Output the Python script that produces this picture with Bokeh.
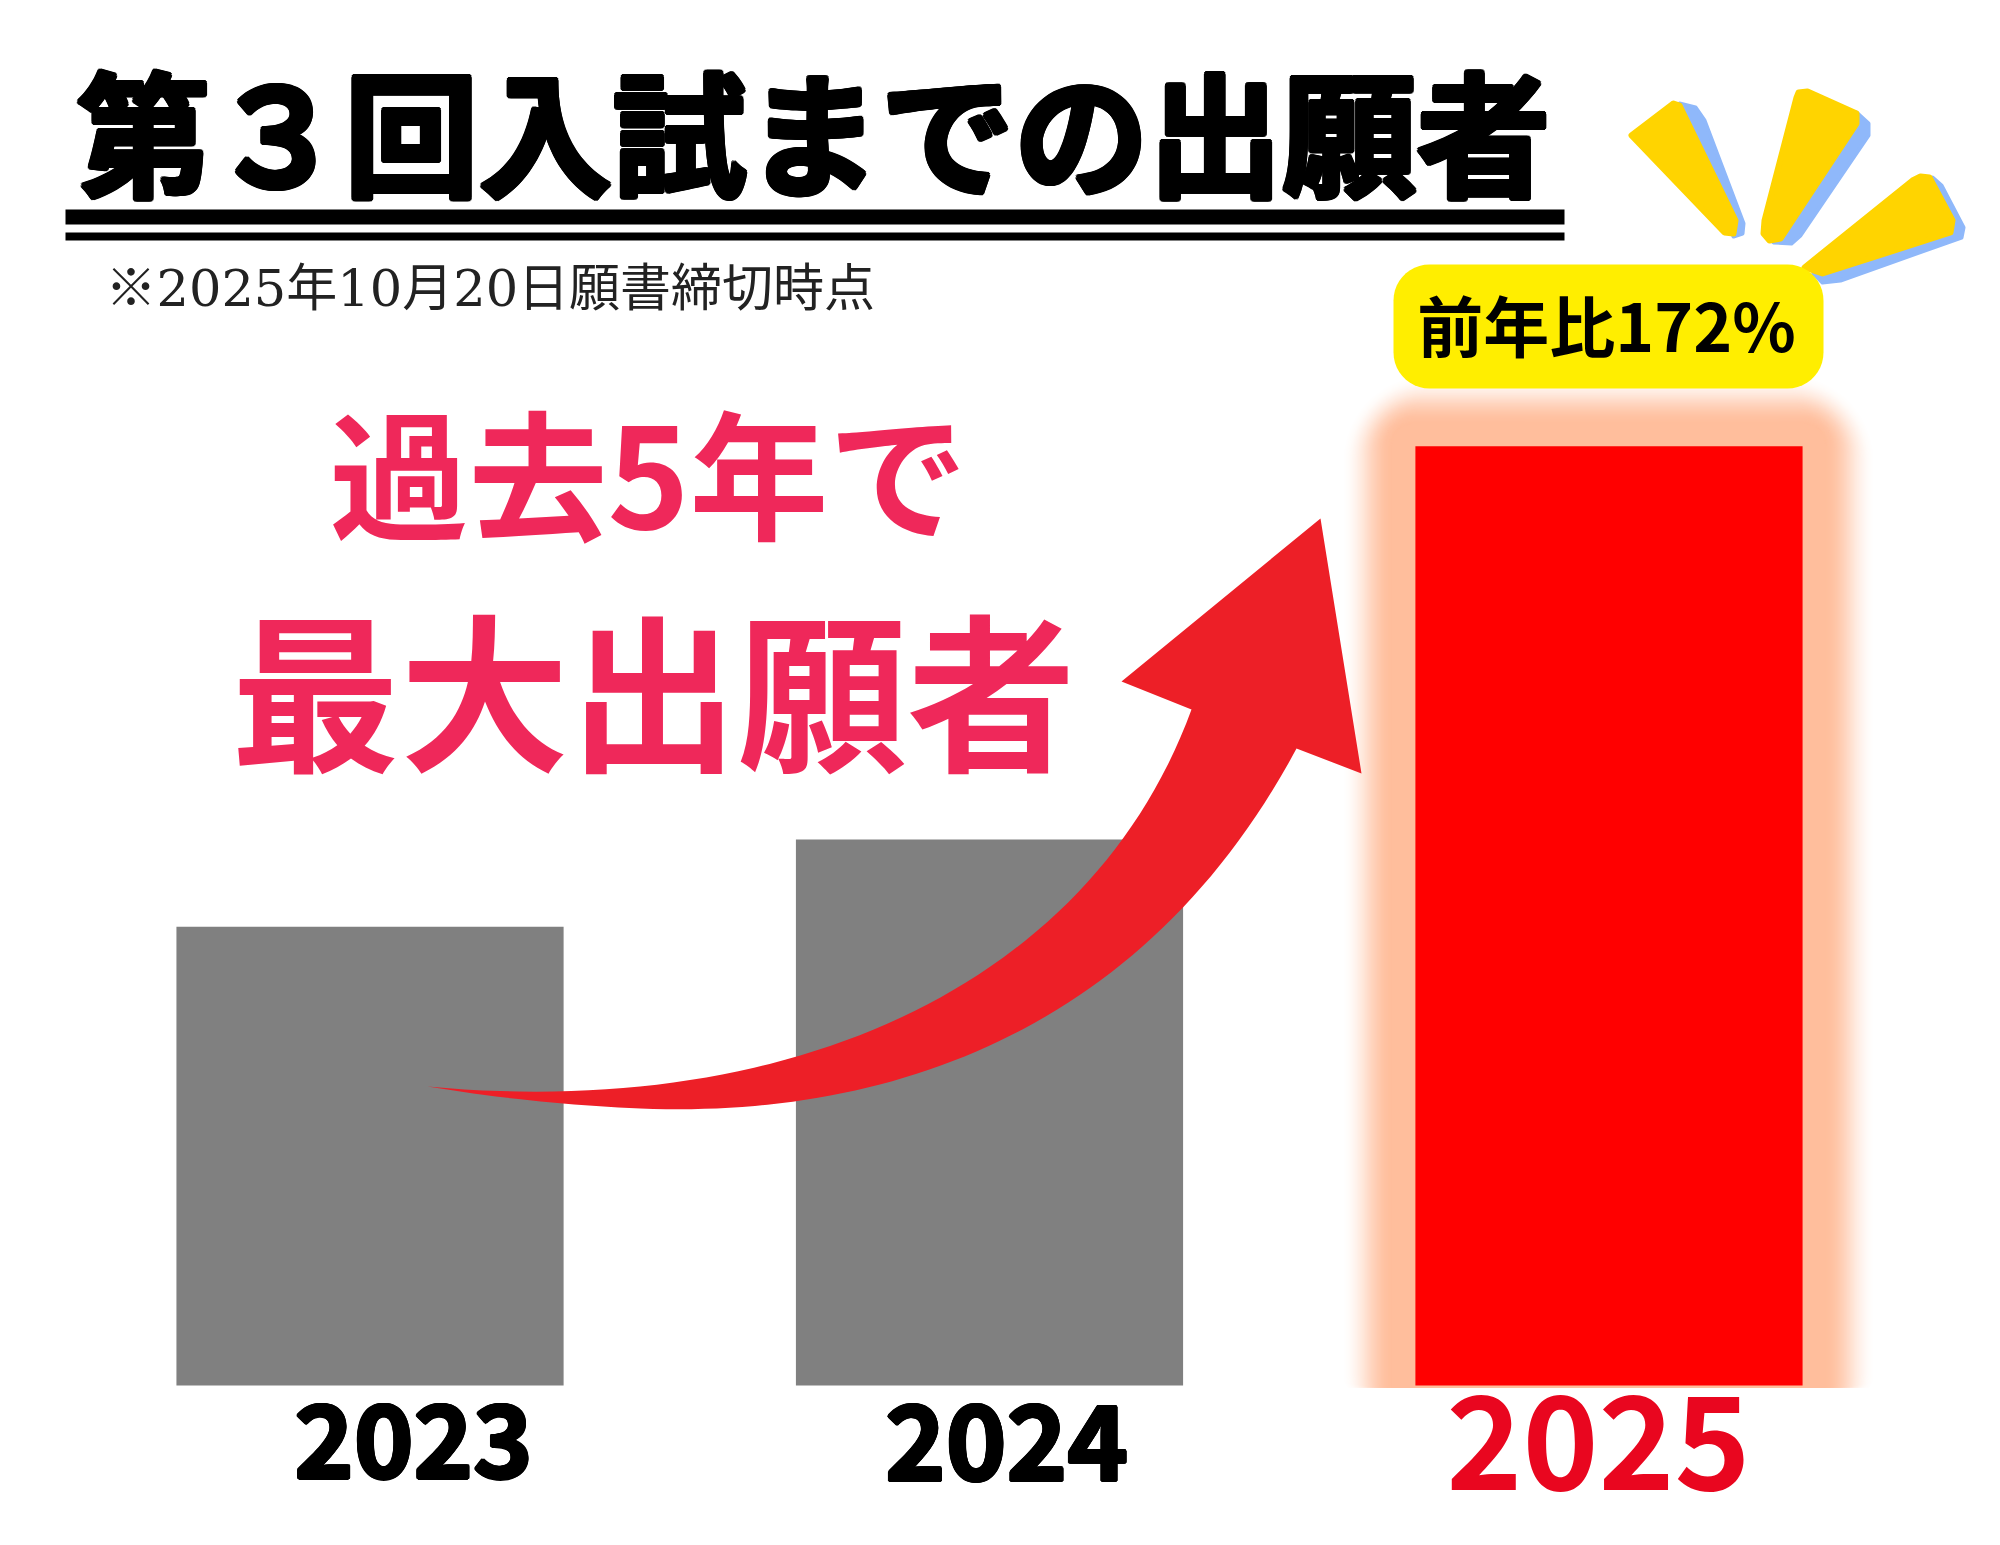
import numpy as np
from bokeh.plotting import figure
from bokeh.models import Range1d
from bokeh.core.properties import value
from bokeh.embed import file_html
from bokeh.resources import INLINE

years = [2023, 2024, 2025]
index_values = [84, 100, 172]
bar_colors = ["#808080", "#808080", "#FF0000"]
title_text = "第３回入試までの出願者"
note_text = "※2025年10月20日願書締切時点"
headline_1 = "過去5年で"
headline_2 = "最大出願者"
badge_text = "前年比172%"

CJK = "Noto Sans CJK JP"
p = figure(width=2000, height=1545, output_backend="svg", toolbar_location=None,
           x_range=Range1d(2022.4035, 2025.632), y_range=Range1d(-29.3, 253.66),
           min_border=0, outline_line_color=None, background_fill_color="white")
p.xaxis.visible = False
p.yaxis.visible = False
p.grid.visible = False
p.extra_x_ranges = {"px": Range1d(0, 2000)}
p.extra_y_ranges = {"px": Range1d(1545, 0)}
PX = dict(x_range_name="px", y_range_name="px")


def rrect(x0, y0, x1, y1, r, n=12):
    t = np.linspace(0, np.pi / 2, n)
    xs = np.concatenate([x1 - r + r * np.sin(t), x1 - r + r * np.cos(t), x0 + r - r * np.sin(t), x0 + r - r * np.cos(t)])
    ys = np.concatenate([y0 + r - r * np.cos(t), y1 - r + r * np.sin(t), y1 - r + r * np.cos(t), y0 + r - r * np.sin(t)])
    return xs, ys


def bez(p0, p1, p2, p3, n=60):
    t = np.linspace(0, 1, n)[:, None]
    a = np.array([p0, p1, p2, p3], float)
    return (1 - t) ** 3 * a[0] + 3 * (1 - t) ** 2 * t * a[1] + 3 * (1 - t) * t ** 2 * a[2] + t ** 3 * a[3]


def heavy(x, y, text, size, color, d, align="left"):
    ang = np.linspace(0, 2 * np.pi, 12, endpoint=False)
    xs = [x] + [x + d * np.cos(a) for a in ang]
    ys = [y] + [y + d * np.sin(a) for a in ang]
    p.text(x=xs, y=ys, text=[text] * len(xs),
           text_font=value(CJK), text_font_style="bold", text_font_size=size, text_color=color,
           text_baseline="middle", text_align=align, **PX)


# glow behind the 2025 bar
peach = np.array([255, 190, 156])
steps = 50
for i in range(steps):
    f = i / (steps - 1)
    grow = 74 - 52 * f
    w = 0.5 - 0.5 * np.cos(np.pi * f)
    c = 255 + (peach - 255) * w
    xs, ys = rrect(1414 - grow, 446 - grow, 1802 + grow, 1385 + grow, 70 * (1 - f) + 20)
    ys = np.minimum(ys, 1387)
    p.patch(xs, ys, fill_color="#%02x%02x%02x" % tuple(int(round(v)) for v in c), line_color=None, **PX)

p.vbar(x=years, top=index_values, bottom=0, width=0.625, fill_color=bar_colors, line_color=None)

# title
heavy(76, 128, title_text, "134px", "black", 2.5)
p.quad(left=[65, 65], right=[1564, 1564], top=[209, 232], bottom=[224, 240], fill_color="black", line_color=None, **PX)
p.text(x=[105], y=[288], text=[note_text], text_font=value("DejaVu Serif, Noto Sans CJK JP"), text_font_size="51px",
       text_color="#222222", text_baseline="middle", text_align="left", **PX)

# headline
p.text(x=[648], y=[468], text=[headline_1], text_font=value(CJK), text_font_style="bold", text_font_size="139px",
       text_color="#EF285A", text_baseline="middle", text_align="center", **PX)
p.text(x=[653], y=[685], text=[headline_2], text_font=value(CJK), text_font_style="bold", text_font_size="169px",
       text_color="#EF285A", text_baseline="middle", text_align="center", **PX)

# arrow
upper = bez((427, 1086), (790, 1120), (1090, 985), (1191, 709))
lower = bez((1296, 748), (1145, 1030), (890, 1118), (640, 1108))
lower2 = bez((640, 1108), (570, 1105), (500, 1098), (427, 1086), 20)
ax = np.concatenate([upper[:, 0], [1121, 1320, 1361], lower[:, 0], lower2[:, 0]])
ay = np.concatenate([upper[:, 1], [681, 518, 773], lower[:, 1], lower2[:, 1]])
p.patch(ax, ay, fill_color="#ED1F27", line_color=None, **PX)

# rays
blue = "#8FB8FA"
gold = "#FFD400"
ray_blue = [
    ([1679, 1695, 1704, 1743, 1742, 1733, 1700], [103, 107, 120, 223, 233, 236, 150]),
    ([1856, 1868, 1868, 1800, 1791, 1773, 1790], [112, 123, 135, 235, 243, 242, 150]),
    ([1932, 1941, 1963, 1961, 1840, 1822, 1813], [177, 185, 227, 237, 280, 282, 273]),
]
ray_gold = [
    ([1673, 1631, 1724, 1733, 1735, 1679], [103, 135, 232, 233, 220, 105]),
    ([1798, 1807, 1856, 1856, 1780, 1769, 1763, 1764, 1796], [92, 91, 113, 123, 238, 240, 233, 220, 97]),
    ([1920, 1929, 1952, 1950, 1822, 1804, 1912], [176, 177, 220, 232, 273, 267, 180]),
]
p.patches([r[0] for r in ray_blue], [r[1] for r in ray_blue], fill_color=blue, line_color=blue, line_width=4,
          line_join="round", **PX)
p.patches([r[0] for r in ray_gold], [r[1] for r in ray_gold], fill_color=gold, line_color=gold, line_width=6,
          line_join="round", **PX)

# badge
bx, by = rrect(1393, 264, 1823, 388, 36)
p.patch(bx, by, fill_color="#FFEE00", line_color=None, **PX)
p.text(x=[1606], y=[322], text=[badge_text], text_font=value(CJK), text_font_style="bold", text_font_size="66px",
       text_color="black", text_baseline="middle", text_align="center", **PX)

# year labels
heavy(413, 1440, str(years[0]), "101px", "black", 1.5, "center")
heavy(1006, 1442, str(years[1]), "103px", "black", 1.5, "center")
p.text(x=[1598], y=[1441], text=[str(years[2])], text_font=value(CJK), text_font_style="bold", text_font_size="129px",
       text_color="#E9061F", text_baseline="middle", text_align="center", **PX)

open("out.html", "w").write(file_html(p, INLINE))
